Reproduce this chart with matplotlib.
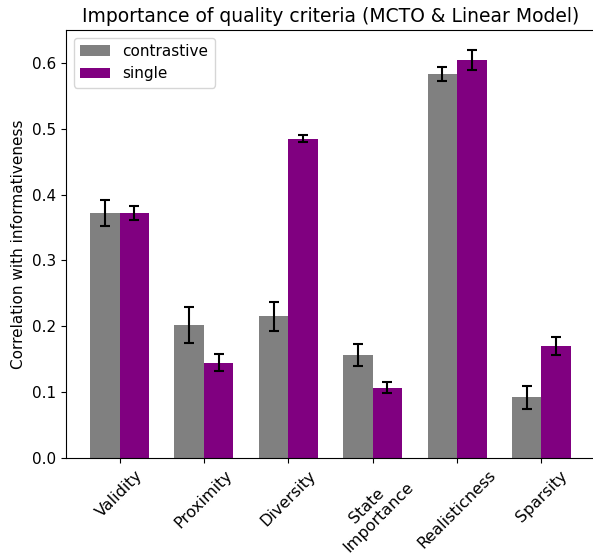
import numpy as np
import matplotlib
matplotlib.use('Agg')
import matplotlib.pyplot as plt

criteria = ['Validity', 'Proximity', 'Diversity', 'State\nImportance', 'Realisticness', 'Sparsity']
contrastive = [0.372, 0.202, 0.215, 0.156, 0.583, 0.092]
contrastive_err = [0.020, 0.027, 0.022, 0.017, 0.011, 0.018]
single = [0.372, 0.145, 0.485, 0.107, 0.605, 0.170]
single_err = [0.011, 0.013, 0.005, 0.009, 0.015, 0.014]

width = 0.35
x = np.arange(len(criteria))

fig = plt.figure(figsize=(5.93, 5.57), dpi=100)
# axes run slightly past the right edge of the canvas
ax = fig.add_axes([66 / 593, (557 - 458) / 557, 529 / 593, 428 / 557])
ax.spines['right'].set_visible(False)

err_kw = dict(elinewidth=1.5, capthick=1.5)
ax.bar(x - width / 2, contrastive, width, yerr=contrastive_err, capsize=3.5,
       color='grey', label='contrastive', error_kw=err_kw)
ax.bar(x + width / 2, single, width, yerr=single_err, capsize=3.5,
       color='purple', label='single', error_kw=err_kw)

ax.set_xlim(-0.635, 5.635)
ax.set_ylim(0, 0.65)
ax.set_xticks(x)
ax.set_xticklabels(criteria, rotation=45, fontsize=11.5, linespacing=1.1)
ax.tick_params(axis='y', labelsize=11)
ax.set_ylabel('Correlation with informativeness', fontsize=11)
ax.set_title('Importance of quality criteria (MCTO & Linear Model)', fontsize=13.5)
ax.legend(loc='upper left', fontsize=11)

fig.savefig('out.png', dpi=100)
